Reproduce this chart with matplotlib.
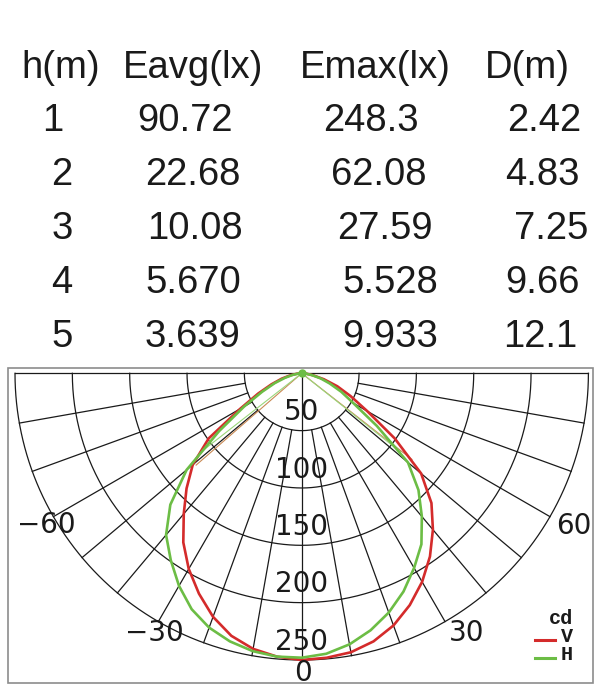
import numpy as np
import matplotlib.pyplot as plt
from matplotlib.patches import Rectangle
from matplotlib.lines import Line2D

W, H = 616, 700

# table above the curve
col_heads = ['h(m)', 'Eavg(lx)', 'Emax(lx)', 'D(m)']
h_m = ['1', '2', '3', '4', '5']
eavg = ['90.72', '22.68', '10.08', '5.670', '3.639']
emax = ['248.3', '62.08', '27.59', '5.528', '9.933']
diam = ['2.42', '4.83', '7.25', '9.66', '12.1']

# light distribution (cd), angle from nadir in degrees
angles = list(range(-90, 95, 5))
cd_v = [0, 4, 10, 18, 28, 42, 62, 99, 124, 142, 160, 180, 197, 212, 226, 237, 244, 248,
        250,
        249, 247, 242, 234, 223, 210, 195, 178, 160, 136, 99, 66, 47, 33, 20, 10, 4, 0]
cd_h = [0, 3, 8, 15, 25, 38, 58, 88, 131, 162, 184, 199, 214, 227, 236, 242, 246, 248,
        248,
        245.5, 240, 232, 222, 210, 196, 182, 163, 144, 121, 80, 52, 38, 26, 17, 9, 4, 0]

# half-peak (beam) lines
beam_v_deg = [-49, 52]
beam_v_cd = 122
beam_h_deg = [-52, 51.5]
beam_h_cd = 110

rings = [50, 100, 150, 200, 250]
spokes = list(range(-90, 95, 10))

RED = '#d42b2b'
GREEN = '#6cbd45'
INK = '#1a1a1a'


def px(x, y):
    # pixel position in the picture -> figure fraction
    return x / W, 1 - y / H


def pol(deg, r):
    # polar (angle from nadir, cd) -> plane, nadir pointing down
    t = np.deg2rad(np.asarray(deg, dtype=float))
    r = np.asarray(r, dtype=float)
    return r * np.sin(t), -r * np.cos(t)


fig = plt.figure(figsize=(W / 100, H / 100), dpi=100)

# ---- table ----
col_x = [61, 193, 375, 527]
head_y = 78
fig_font = dict(family='Liberation Sans', size=27.5, color=INK)
for txt, x in zip(col_heads, col_x):
    fig.text(*px(x, head_y), txt, ha='center', va='baseline', **fig_font)

row_y = [131, 185, 239, 293, 347]
h_x = [53, 62, 62, 62, 62]
eavg_x = [185, 193, 195, 193, 193]
emax_x = [371, 379, 385, 390, 390]
diam_x = [544, 542, 551, 542, 540]
for i, y in enumerate(row_y):
    fig.text(*px(h_x[i], y), h_m[i], ha='center', va='baseline', **fig_font)
    fig.text(*px(eavg_x[i], y), eavg[i], ha='center', va='baseline', **fig_font)
    fig.text(*px(emax_x[i], y), emax[i], ha='center', va='baseline', **fig_font)
    fig.text(*px(diam_x[i], y), diam[i], ha='center', va='baseline', **fig_font)

# ---- frame around the polar plot ----
x0, y0 = px(8, 683)
fig.add_artist(Rectangle((x0, y0), (593 - 8) / W, (683 - 368) / H,
                         transform=fig.transFigure, fill=False,
                         ec='#8c8c8c', lw=1.2))

# ---- polar plot (drawn on a plain axes, 1 cd = same length both ways) ----
R_px = 286.7
ax = fig.add_axes([15 / W, 1 - 660 / H, 2 * R_px / W, R_px / H])
ax.set_xlim(-250, 250)
ax.set_ylim(-250, 0)
ax.axis('off')

arc = np.linspace(-90, 90, 361)
for r in rings:
    ax.plot(*pol(arc, np.full_like(arc, r)), color=INK, lw=0.9, clip_on=False, zorder=1)
for a in spokes:
    r0 = 0 if a in (-90, 0, 90) else 50
    ax.plot(*pol([a, a], [r0, 250]), color=INK, lw=0.9, clip_on=False, zorder=1)

for a in beam_v_deg:
    ax.plot(*pol([a, a], [0, beam_v_cd]), color='#c98a55', lw=0.8,
            clip_on=False, zorder=2)
for a in beam_h_deg:
    ax.plot(*pol([a, a], [0, beam_h_cd]), color='#9ad67a', lw=0.8,
            clip_on=False, zorder=2)

ax.plot(*pol(angles, cd_v), color=RED, lw=1.9, clip_on=False, zorder=3,
        solid_joinstyle='round')
ax.plot(*pol(angles, cd_h), color=GREEN, lw=1.9, clip_on=False, zorder=3,
        solid_joinstyle='round')
ax.plot(*pol([0], [0]), 'o', color=GREEN, ms=5, clip_on=False, zorder=4)

lab_font = dict(family='DejaVu Sans', size=20, color=INK)
for r in rings:
    ax.text(*pol(0, r - 16), str(r), ha='center', va='center', zorder=5, **lab_font)

ang_labels = [('\u221260', -59.3, 259), ('60', 60.7, 272), ('\u221230', -29.6, 260.5),
              ('30', 32.4, 268), ('0', 0.3, 261)]
for txt, a, r in ang_labels:
    ax.text(*pol(a, r), txt, ha='center', va='center', zorder=5, **lab_font)

# ---- legend ----
leg_font = dict(family='Liberation Mono', weight='bold', size=14.5, color=INK)
fig.text(*px(573, 619), 'cd', ha='right', va='center', **leg_font)
fig.text(*px(573, 637), 'V', ha='right', va='center', **leg_font)
fig.text(*px(573, 655), 'H', ha='right', va='center', **leg_font)
for y, c in [(640, RED), (657.7, GREEN)]:
    fig.add_artist(Line2D([535 / W, 555 / W], [1 - y / H] * 2,
                          transform=fig.transFigure, color=c, lw=2.2))

fig.savefig('out.png', dpi=100)
